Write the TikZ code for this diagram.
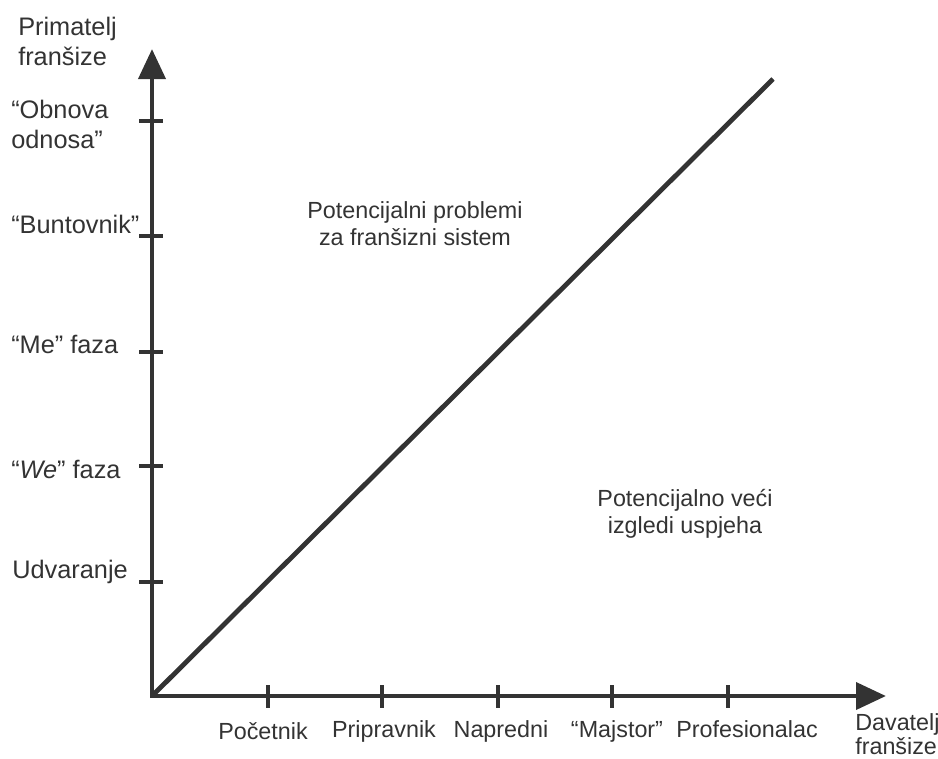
\documentclass[tikz,border=0pt]{standalone}
\usepackage{fontspec}
\setmainfont{Liberation Sans}
\usetikzlibrary{arrows.meta}
\definecolor{ink}{HTML}{333333}
\begin{document}
\begin{tikzpicture}[x=0.75pt,y=-0.75pt,
  lbl/.style={text=ink, inner sep=0pt, font=\fontsize{17.5}{20.25}\selectfont},
  ylbl/.style={text=ink, inner sep=0pt, font=\fontsize{19}{22.25}\selectfont},
  axisline/.style={draw=ink, line width=3.6pt},
  tickmark/.style={draw=ink, line width=3.6pt}]
\useasboundingbox (0,0) rectangle (938,758);
\coordinate (O) at (152,696);
\coordinate (Ytop) at (152,49);
\coordinate (Xend) at (886,696);
\coordinate (Dend) at (773,79);
% axes
\draw[axisline,{Triangle[length=22.5pt,width=20pt]}-{Triangle[length=22.5pt,width=20pt]}] (Ytop) -- (O) -- (Xend);
% diagonal
\draw[axisline] (O) -- (Dend);
% ticks
\foreach \y in {121,236,352,466,582} \draw[tickmark] (139,\y) -- (163,\y);
\foreach \x in {268,382,498,612,728} \draw[tickmark] (\x,685) -- (\x,708);
% y labels
\node[ylbl, anchor=base west, align=left] (ylab) at (18,65) {Primatelj\\franšize};
\node[ylbl, anchor=base west, align=left] (y5) at (11,148) {“Obnova\\odnosa”};
\node[ylbl, anchor=base west] (y4) at (11,233) {“Buntovnik”};
\node[ylbl, anchor=base west] (y3) at (11,353) {“Me” faza};
\node[ylbl, anchor=base west] (y2) at (11,478) {“\textit{We}” faza};
\node[ylbl, anchor=base west] (y1) at (12,578) {Udvaranje};
% x labels
\node[lbl, anchor=base] (x1) at (263,739) {Početnik};
\node[lbl, anchor=base] (x2) at (384,737) {Pripravnik};
\node[lbl, anchor=base] (x3) at (501,737) {Napredni};
\node[lbl, anchor=base] (x4) at (617,737) {“Majstor”};
\node[lbl, anchor=base] (x5) at (747,737) {Profesionalac};
\node[lbl, font=\fontsize{17.5}{17.5}\selectfont, anchor=base west, align=left] (xlab) at (855,754) {Davatelj\\franšize};
% region labels
\node[lbl, anchor=base, align=center] (r1) at (415,245) {Potencijalni problemi\\za franšizni sistem};
\node[lbl, anchor=base, align=center] (r2) at (685,533) {Potencijalno veći\\izgledi uspjeha};
\end{tikzpicture}
\end{document}
